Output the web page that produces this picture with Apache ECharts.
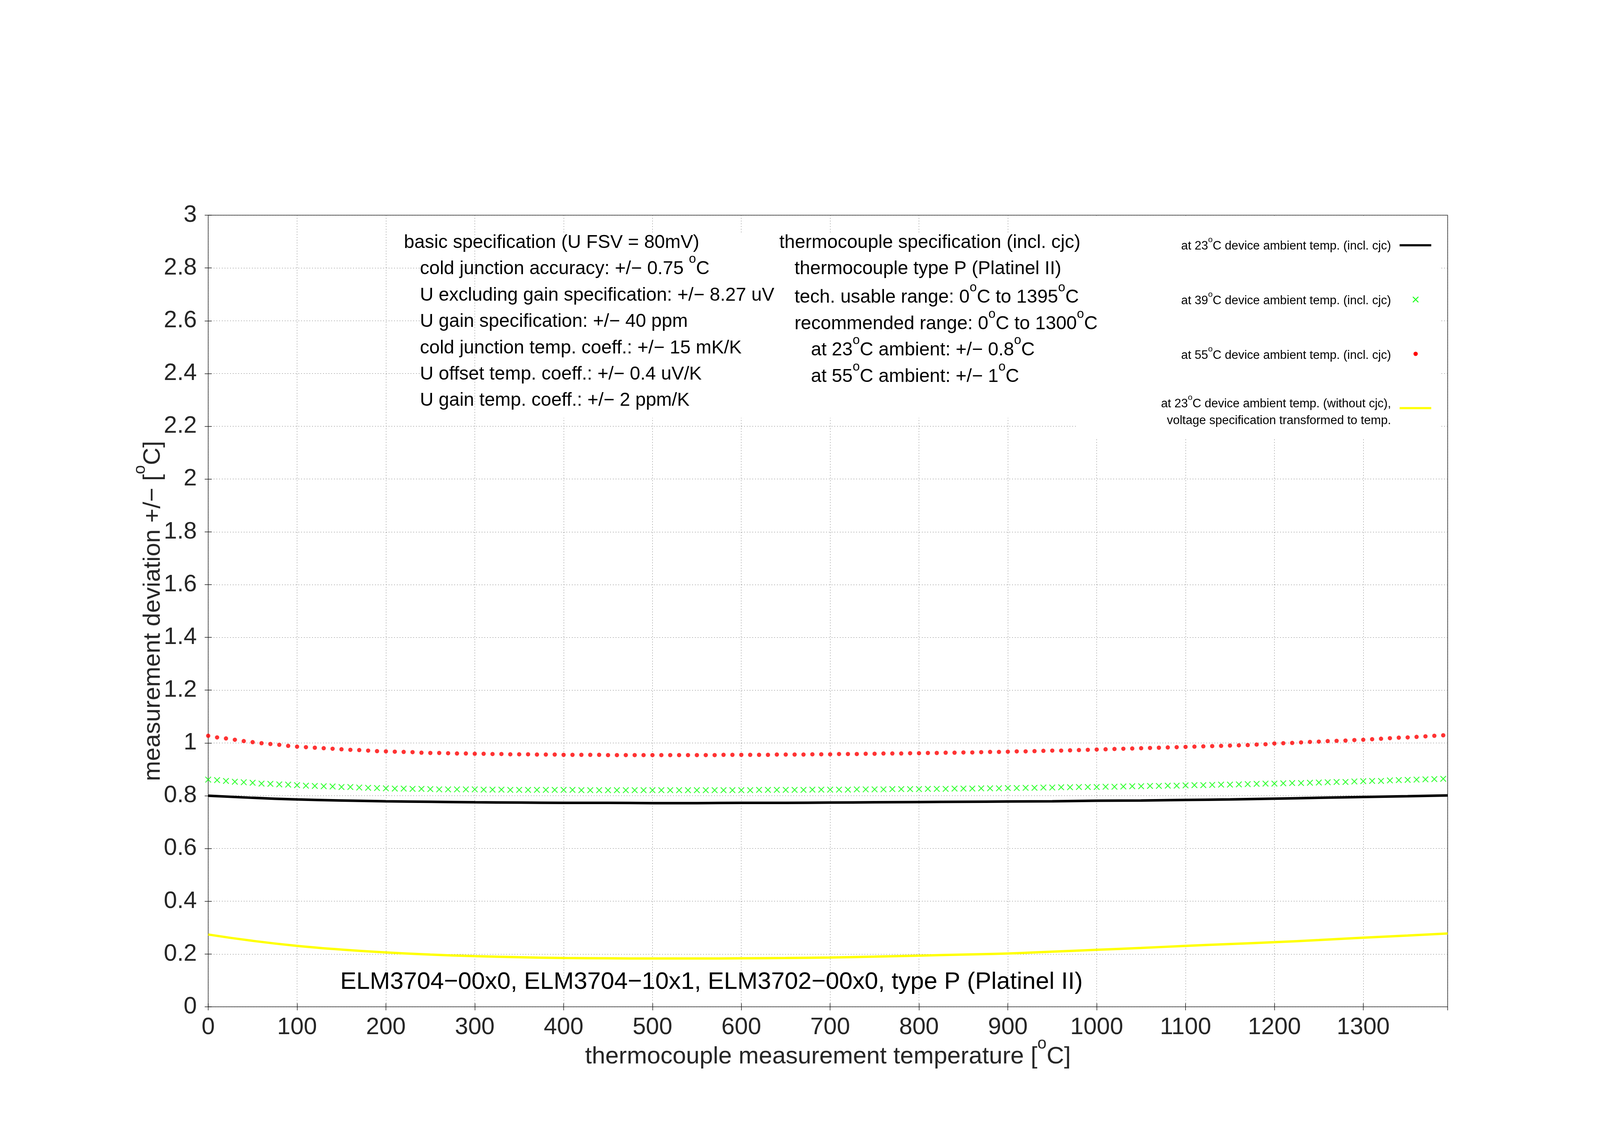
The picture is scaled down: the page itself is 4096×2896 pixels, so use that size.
<!DOCTYPE html>
<html><head><meta charset="utf-8">
<script src="https://cdn.jsdelivr.net/npm/echarts@6/dist/echarts.min.js"></script>
<style>html,body{margin:0;padding:0;background:#fff}#c{width:4096px;height:2896px}</style>
</head><body><div id="c"></div>
<script>
// ---------------- data ----------------
const lineTemps = [0,50,100,150,200,250,300,350,400,450,500,550,600,650,700,750,800,850,900,950,1000,1050,1100,1150,1200,1250,1300,1350,1395];
const at23Cjc = [0.800,0.792,0.786,0.782,0.779,0.777,0.775,0.774,0.773,0.773,0.772,0.772,0.773,0.773,0.774,0.775,0.776,0.777,0.778,0.779,0.781,0.782,0.784,0.786,0.789,0.792,0.795,0.798,0.801];
const at23NoCjc = [0.274,0.250,0.231,0.217,0.206,0.198,0.192,0.188,0.185,0.184,0.183,0.183,0.184,0.185,0.187,0.190,0.194,0.198,0.202,0.209,0.216,0.223,0.231,0.238,0.245,0.253,0.262,0.270,0.278];
const markTemps = [0,10,20,30,40,50,60,70,80,90,100,110,120,130,140,150,160,170,180,190,200,210,220,230,240,250,260,270,280,290,300,310,320,330,340,350,360,370,380,390,400,410,420,430,440,450,460,470,480,490,500,510,520,530,540,550,560,570,580,590,600,610,620,630,640,650,660,670,680,690,700,710,720,730,740,750,760,770,780,790,800,810,820,830,840,850,860,870,880,890,900,910,920,930,940,950,960,970,980,990,1000,1010,1020,1030,1040,1050,1060,1070,1080,1090,1100,1110,1120,1130,1140,1150,1160,1170,1180,1190,1200,1210,1220,1230,1240,1250,1260,1270,1280,1290,1300,1310,1320,1330,1340,1350,1360,1370,1380,1390];
const at39Cjc = [
0.861,0.859,0.856,0.853,0.851,0.849,0.846,0.845,0.843,0.842,
0.840,0.838,0.837,0.836,0.835,0.833,0.833,0.831,0.830,0.829,
0.828,0.827,0.827,0.826,0.826,0.825,0.824,0.824,0.824,0.824,
0.824,0.823,0.823,0.823,0.822,0.822,0.822,0.822,0.822,0.822,
0.822,0.822,0.821,0.821,0.821,0.821,0.821,0.821,0.821,0.821,
0.821,0.821,0.821,0.821,0.821,0.821,0.821,0.821,0.821,0.821,
0.821,0.821,0.822,0.822,0.822,0.822,0.822,0.822,0.823,0.823,
0.823,0.823,0.823,0.824,0.824,0.824,0.824,0.825,0.825,0.825,
0.825,0.826,0.826,0.826,0.827,0.827,0.827,0.828,0.828,0.828,
0.829,0.829,0.830,0.830,0.831,0.831,0.832,0.832,0.833,0.833,
0.833,0.834,0.834,0.835,0.836,0.836,0.837,0.837,0.838,0.838,
0.839,0.840,0.840,0.841,0.842,0.842,0.843,0.844,0.845,0.846,
0.846,0.847,0.848,0.848,0.849,0.850,0.851,0.852,0.852,0.854,
0.855,0.856,0.856,0.858,0.859,0.860,0.861,0.862,0.863,0.864];
const at55Cjc = [
1.027,1.021,1.017,1.012,1.007,1.003,0.999,0.996,0.993,0.989,
0.986,0.984,0.982,0.980,0.978,0.976,0.974,0.973,0.971,0.969,
0.968,0.967,0.966,0.965,0.963,0.962,0.962,0.961,0.960,0.960,
0.959,0.959,0.958,0.958,0.957,0.957,0.957,0.956,0.956,0.956,
0.955,0.955,0.955,0.955,0.955,0.954,0.954,0.954,0.954,0.954,
0.954,0.954,0.954,0.954,0.954,0.954,0.954,0.954,0.955,0.955,
0.955,0.955,0.955,0.955,0.956,0.956,0.956,0.956,0.957,0.957,
0.957,0.958,0.958,0.958,0.959,0.959,0.960,0.960,0.960,0.961,
0.961,0.962,0.962,0.963,0.963,0.964,0.964,0.965,0.966,0.966,
0.967,0.968,0.968,0.969,0.970,0.971,0.971,0.972,0.973,0.974,
0.975,0.976,0.977,0.978,0.979,0.980,0.981,0.982,0.983,0.984,
0.985,0.986,0.987,0.988,0.989,0.990,0.991,0.992,0.994,0.995,
0.998,0.999,1.000,1.002,1.004,1.005,1.007,1.008,1.009,1.011,
1.012,1.014,1.016,1.018,1.020,1.021,1.023,1.025,1.027,1.029];

const seriesNames = [
  'at 23{s|o}C device ambient temp. (incl. cjc)',
  'at 39{s|o}C device ambient temp. (incl. cjc)',
  'at 55{s|o}C device ambient temp. (incl. cjc)',
  'at 23{s|o}C device ambient temp. (without cjc),\nvoltage specification transformed to temp.'
];
const basicSpec = [
  'basic specification (U FSV = 80mV)',
  'cold junction accuracy: +/\u2212 0.75 {s|o}C',
  'U excluding gain specification: +/\u2212 8.27 uV',
  'U gain specification: +/\u2212 40 ppm',
  'cold junction temp. coeff.: +/\u2212 15 mK/K',
  'U offset temp. coeff.: +/\u2212 0.4 uV/K',
  'U gain temp. coeff.: +/\u2212 2 ppm/K'
];
const tcSpec = [
  'thermocouple specification (incl. cjc)',
  'thermocouple type P (Platinel II)',
  'tech. usable range: 0{s|o}C to 1395{s|o}C',
  'recommended range: 0{s|o}C to 1300{s|o}C',
  'at 23{s|o}C ambient: +/\u2212 0.8{s|o}C',
  'at 55{s|o}C ambient: +/\u2212 1{s|o}C'
];
const productLine = 'ELM3704\u221200x0, ELM3704\u221210x1, ELM3702\u221200x0, type P (Platinel II)';
const xName = 'thermocouple measurement temperature [{s|o}C]';
const yName = 'measurement deviation +/\u2212 [{s|o}C]';

// ---------------- chart ----------------
const FONT = 'Liberation Sans, Arial, Helvetica, sans-serif';
const chart = echarts.init(document.getElementById('c'), null, {renderer: 'canvas'});

const supRich = (size, pad) => ({ s: { fontSize: size, fontFamily: FONT, padding: [0, 0, pad, 0] } });

function txt(x, y, text, size, align, sup) {
  return {
    type: 'text', x: x, y: y, z: 10,
    style: {
      text: text, fontSize: size, fontFamily: FONT, fill: '#000',
      align: align || 'left', verticalAlign: 'middle',
      rich: supRich(sup[0], sup[1])
    }
  };
}

const graphics = [];
// opaque areas behind the spec texts / key
graphics.push({type: 'rect', z: 1, shape: {x: 1074, y: 595, width: 139, height: 475}, style: {fill: '#fff'}});
graphics.push({type: 'rect', z: 1, shape: {x: 1219, y: 595, width: 2466, height: 475}, style: {fill: '#fff'}});
graphics.push({type: 'rect', z: 1, shape: {x: 2756, y: 553, width: 929, height: 569}, style: {fill: '#fff'}});

const specY = [622, 689, 757, 824, 892, 959, 1026];
basicSpec.forEach((t, i) => graphics.push(txt(i === 0 ? 1034 : 1075, specY[i], t, 48, 'left', [33, 50])));
const tcY = [622, 689, 762, 830, 897, 965];
const tcX = [1995, 2034, 2034, 2034, 2076, 2076];
tcSpec.forEach((t, i) => graphics.push(txt(tcX[i], tcY[i], t, 48, 'left', [33, 50])));
graphics.push(txt(871, 2515, productLine, 62, 'left', [40, 60]));

// key
const keyTextX = 3561;
const KEYF = 31, KEYSUP = [21, 32];
graphics.push(txt(keyTextX, 630, seriesNames[0], KEYF, 'right', KEYSUP));
graphics.push(txt(keyTextX, 770, seriesNames[1], KEYF, 'right', KEYSUP));
graphics.push(txt(keyTextX, 910, seriesNames[2], KEYF, 'right', KEYSUP));
graphics.push(txt(keyTextX, 1034, seriesNames[3].split('\n')[0], KEYF, 'right', KEYSUP));
graphics.push(txt(keyTextX, 1077, seriesNames[3].split('\n')[1], KEYF, 'right', KEYSUP));
graphics.push({type: 'line', z: 10, shape: {x1: 3583, y1: 628, x2: 3664, y2: 628}, style: {stroke: '#000', lineWidth: 5.5}});
graphics.push({type: 'line', z: 10, shape: {x1: 3617, y1: 760, x2: 3631, y2: 774}, style: {stroke: '#00ff00', lineWidth: 2.2}});
graphics.push({type: 'line', z: 10, shape: {x1: 3631, y1: 760, x2: 3617, y2: 774}, style: {stroke: '#00ff00', lineWidth: 2.2}});
graphics.push({type: 'circle', z: 10, shape: {cx: 3624, cy: 906, r: 5.5}, style: {fill: '#ff0000'}});
graphics.push({type: 'line', z: 10, shape: {x1: 3583, y1: 1045, x2: 3664, y2: 1045}, style: {stroke: '#ffff00', lineWidth: 5.5}});

const gridLine = {show: true, lineStyle: {color: '#666', width: 1, type: [2, 5]}};
const tick = {show: true, inside: true, length: 9, lineStyle: {color: '#222', width: 1.5}};
const labelStyle = {fontFamily: FONT, fontSize: 61, color: '#262626'};
const nameStyle = {fontFamily: FONT, fontSize: 62, color: '#262626', rich: supRich(42, 66)};

const crossMark = 'path://M0,1L1,0L5,4L9,0L10,1L6,5L10,9L9,10L5,6L1,10L0,9L4,5Z';

chart.setOption({
  animation: false,
  backgroundColor: '#fff',
  grid: {left: 533, right: 390, top: 551, bottom: 318, show: true, borderColor: '#222', borderWidth: 1.5, containLabel: false},
  xAxis: [
    {type: 'value', min: 0, max: 1395, interval: 100, position: 'bottom',
     name: xName, nameLocation: 'middle', nameGap: 74, nameMoveOverlap: false, nameTextStyle: nameStyle,
     axisLine: {show: false}, axisTick: tick,
     axisLabel: Object.assign({margin: 23, showMaxLabel: false, formatter: v => String(v)}, labelStyle),
     splitLine: gridLine},
    {type: 'value', min: 0, max: 1395, interval: 100, position: 'top',
     axisLine: {show: false}, axisTick: tick, axisLabel: {show: false}, splitLine: {show: false}}
  ],
  yAxis: [
    {type: 'value', min: 0, max: 3, interval: 0.2, position: 'left',
     name: yName, nameLocation: 'middle', nameGap: 87, nameRotate: 90, nameMoveOverlap: false, nameTextStyle: nameStyle,
     axisLine: {show: false}, axisTick: tick,
     axisLabel: Object.assign({margin: 29}, labelStyle),
     splitLine: gridLine},
    {type: 'value', min: 0, max: 3, interval: 0.2, position: 'right',
     axisLine: {show: false}, axisTick: tick, axisLabel: {show: false}, splitLine: {show: false}}
  ],
  series: [
    {name: 'at23cjc', type: 'line', smooth: true, showSymbol: false, symbol: 'none',
     data: lineTemps.map((t, i) => [t, at23Cjc[i]]),
     lineStyle: {color: '#000', width: 6.5}, z: 3},
    {name: 'at39cjc', type: 'scatter', symbol: crossMark, symbolSize: 16,
     data: markTemps.map((t, i) => [t, at39Cjc[i]]),
     itemStyle: {color: '#00ff00'}, z: 3},
    {name: 'at55cjc', type: 'scatter', symbol: 'circle', symbolSize: 11,
     data: markTemps.map((t, i) => [t, at55Cjc[i]]),
     itemStyle: {color: '#ff0000'}, z: 3},
    {name: 'at23nocjc', type: 'line', smooth: true, showSymbol: false, symbol: 'none',
     data: lineTemps.map((t, i) => [t, at23NoCjc[i]]),
     lineStyle: {color: '#ffff00', width: 6}, z: 3}
  ],
  graphic: graphics
});
</script>
</body></html>
